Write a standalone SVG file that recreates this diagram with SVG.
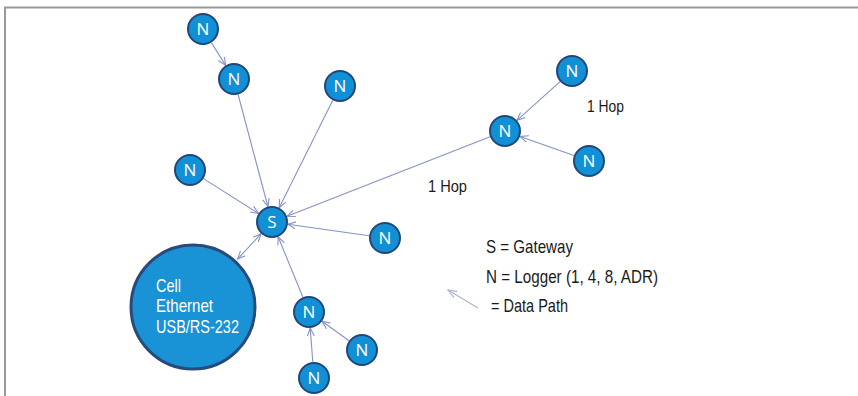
<svg xmlns="http://www.w3.org/2000/svg" width="858" height="396" viewBox="0 0 858 396">
<style>
.node circle{fill:#1190d6;stroke:#23467a;stroke-width:2}
.node text{fill:#fff;font-family:"Open Sans","Liberation Sans",sans-serif;font-size:17px;text-anchor:middle}
.edge{stroke:#8592c6;stroke-width:1.1;fill:none}
.lbl{fill:#1a1a1a;font-family:"Liberation Sans Narrow","Liberation Sans",sans-serif}
.big text{fill:#fff;font-family:"Liberation Sans Narrow","Liberation Sans",sans-serif;font-size:19px}
</style>
<defs>
<marker id="arr" markerWidth="10" markerHeight="10" refX="8" refY="4" orient="auto" markerUnits="userSpaceOnUse">
<path d="M0,0.5 L8,4 L0,7.5" fill="none" stroke="#8592c6" stroke-width="1.1"/>
</marker>
<marker id="arrs" markerWidth="10" markerHeight="10" refX="8" refY="4" orient="auto-start-reverse" markerUnits="userSpaceOnUse">
<path d="M0,0.5 L8,4 L0,7.5" fill="none" stroke="#8592c6" stroke-width="1.1"/>
</marker>
<marker id="arrl" markerWidth="12" markerHeight="10" refX="9" refY="4" orient="auto" markerUnits="userSpaceOnUse">
<path d="M0,0.5 L9,4 L0,7.5" fill="none" stroke="#a9b3d6" stroke-width="1.1"/>
</marker>
</defs>
<rect width="858" height="396" fill="#fff"/>
<path d="M5,396 V7.5 H858" fill="none" stroke="#999" stroke-width="2"/>
<g id="connectors">
<line class="edge" x1="211.4" y1="42.6" x2="225.6" y2="65.4" marker-end="url(#arr)"/>
<line class="edge" x1="238.1" y1="94.5" x2="267.9" y2="206.5" marker-end="url(#arr)"/>
<line class="edge" x1="332.8" y1="100.3" x2="279.2" y2="207.7" marker-end="url(#arr)"/>
<line class="edge" x1="203.5" y1="178.6" x2="258.5" y2="213.4" marker-end="url(#arr)"/>
<line class="edge" x1="490.1" y1="136.8" x2="287.1" y2="216.2" marker-end="url(#arr)"/>
<line class="edge" x1="369.2" y1="235.8" x2="287.8" y2="224.2" marker-end="url(#arr)"/>
<line class="edge" x1="302.9" y1="297.2" x2="278.1" y2="236.8" marker-end="url(#arr)"/>
<line class="edge" x1="261.1" y1="233.7" x2="237.6" y2="259.1" marker-start="url(#arrs)" marker-end="url(#arr)"/>
<line class="edge" x1="560.1" y1="81.7" x2="516.9" y2="120.3" marker-end="url(#arr)"/>
<line class="edge" x1="573.9" y1="155.6" x2="520.1" y2="136.4" marker-end="url(#arr)"/>
<line class="edge" x1="349" y1="340.7" x2="322" y2="321.3" marker-end="url(#arr)"/>
<line class="edge" x1="312.8" y1="362" x2="310.2" y2="328" marker-end="url(#arr)"/>
<line x1="478" y1="308" x2="448" y2="290" stroke="#a9b3d6" stroke-width="1.1" marker-end="url(#arrl)"/>
</g>
<g id="gateway-link" class="big">
<circle cx="193" cy="307" r="62" fill="#1992d6" stroke="#2a4a7c" stroke-width="3"/>
<text x="156" y="292" textLength="25" lengthAdjust="spacingAndGlyphs">Cell</text>
<text x="156" y="312" textLength="57" lengthAdjust="spacingAndGlyphs">Ethernet</text>
<text x="156" y="333" textLength="83" lengthAdjust="spacingAndGlyphs">USB/RS-232</text>
</g>
<g id="S" class="node"><circle cx="272" cy="222" r="15"/><text x="272" y="228">S</text></g>
<g id="n1" class="node"><circle cx="203" cy="29" r="15"/><text x="203" y="35">N</text></g>
<g id="n2" class="node"><circle cx="234" cy="79" r="15"/><text x="234" y="85">N</text></g>
<g id="n3" class="node"><circle cx="340" cy="86" r="15"/><text x="340" y="92">N</text></g>
<g id="n4" class="node"><circle cx="190" cy="170" r="15"/><text x="190" y="176">N</text></g>
<g id="n5" class="node"><circle cx="385" cy="238" r="15"/><text x="385" y="244">N</text></g>
<g id="n6" class="node"><circle cx="505" cy="131" r="15"/><text x="505" y="137">N</text></g>
<g id="n7" class="node"><circle cx="572" cy="71" r="15"/><text x="572" y="77">N</text></g>
<g id="n8" class="node"><circle cx="589" cy="161" r="15"/><text x="589" y="167">N</text></g>
<g id="n9" class="node"><circle cx="309" cy="312" r="15"/><text x="309" y="318">N</text></g>
<g id="n10" class="node"><circle cx="362" cy="350" r="15"/><text x="362" y="356">N</text></g>
<g id="n11" class="node"><circle cx="314" cy="378" r="15"/><text x="314" y="384">N</text></g>
<g id="labels">
<text class="lbl" x="587" y="112" font-size="17" textLength="37" lengthAdjust="spacingAndGlyphs">1 Hop</text>
<text class="lbl" x="428" y="192" font-size="17" textLength="39" lengthAdjust="spacingAndGlyphs">1 Hop</text>
<text class="lbl" x="486" y="253" font-size="19" textLength="87" lengthAdjust="spacingAndGlyphs">S = Gateway</text>
<text class="lbl" x="486" y="283" font-size="19" textLength="172" lengthAdjust="spacingAndGlyphs">N = Logger (1, 4, 8, ADR)</text>
<text class="lbl" x="491" y="312" font-size="19" textLength="77" lengthAdjust="spacingAndGlyphs">= Data Path</text>
</g>
</svg>
